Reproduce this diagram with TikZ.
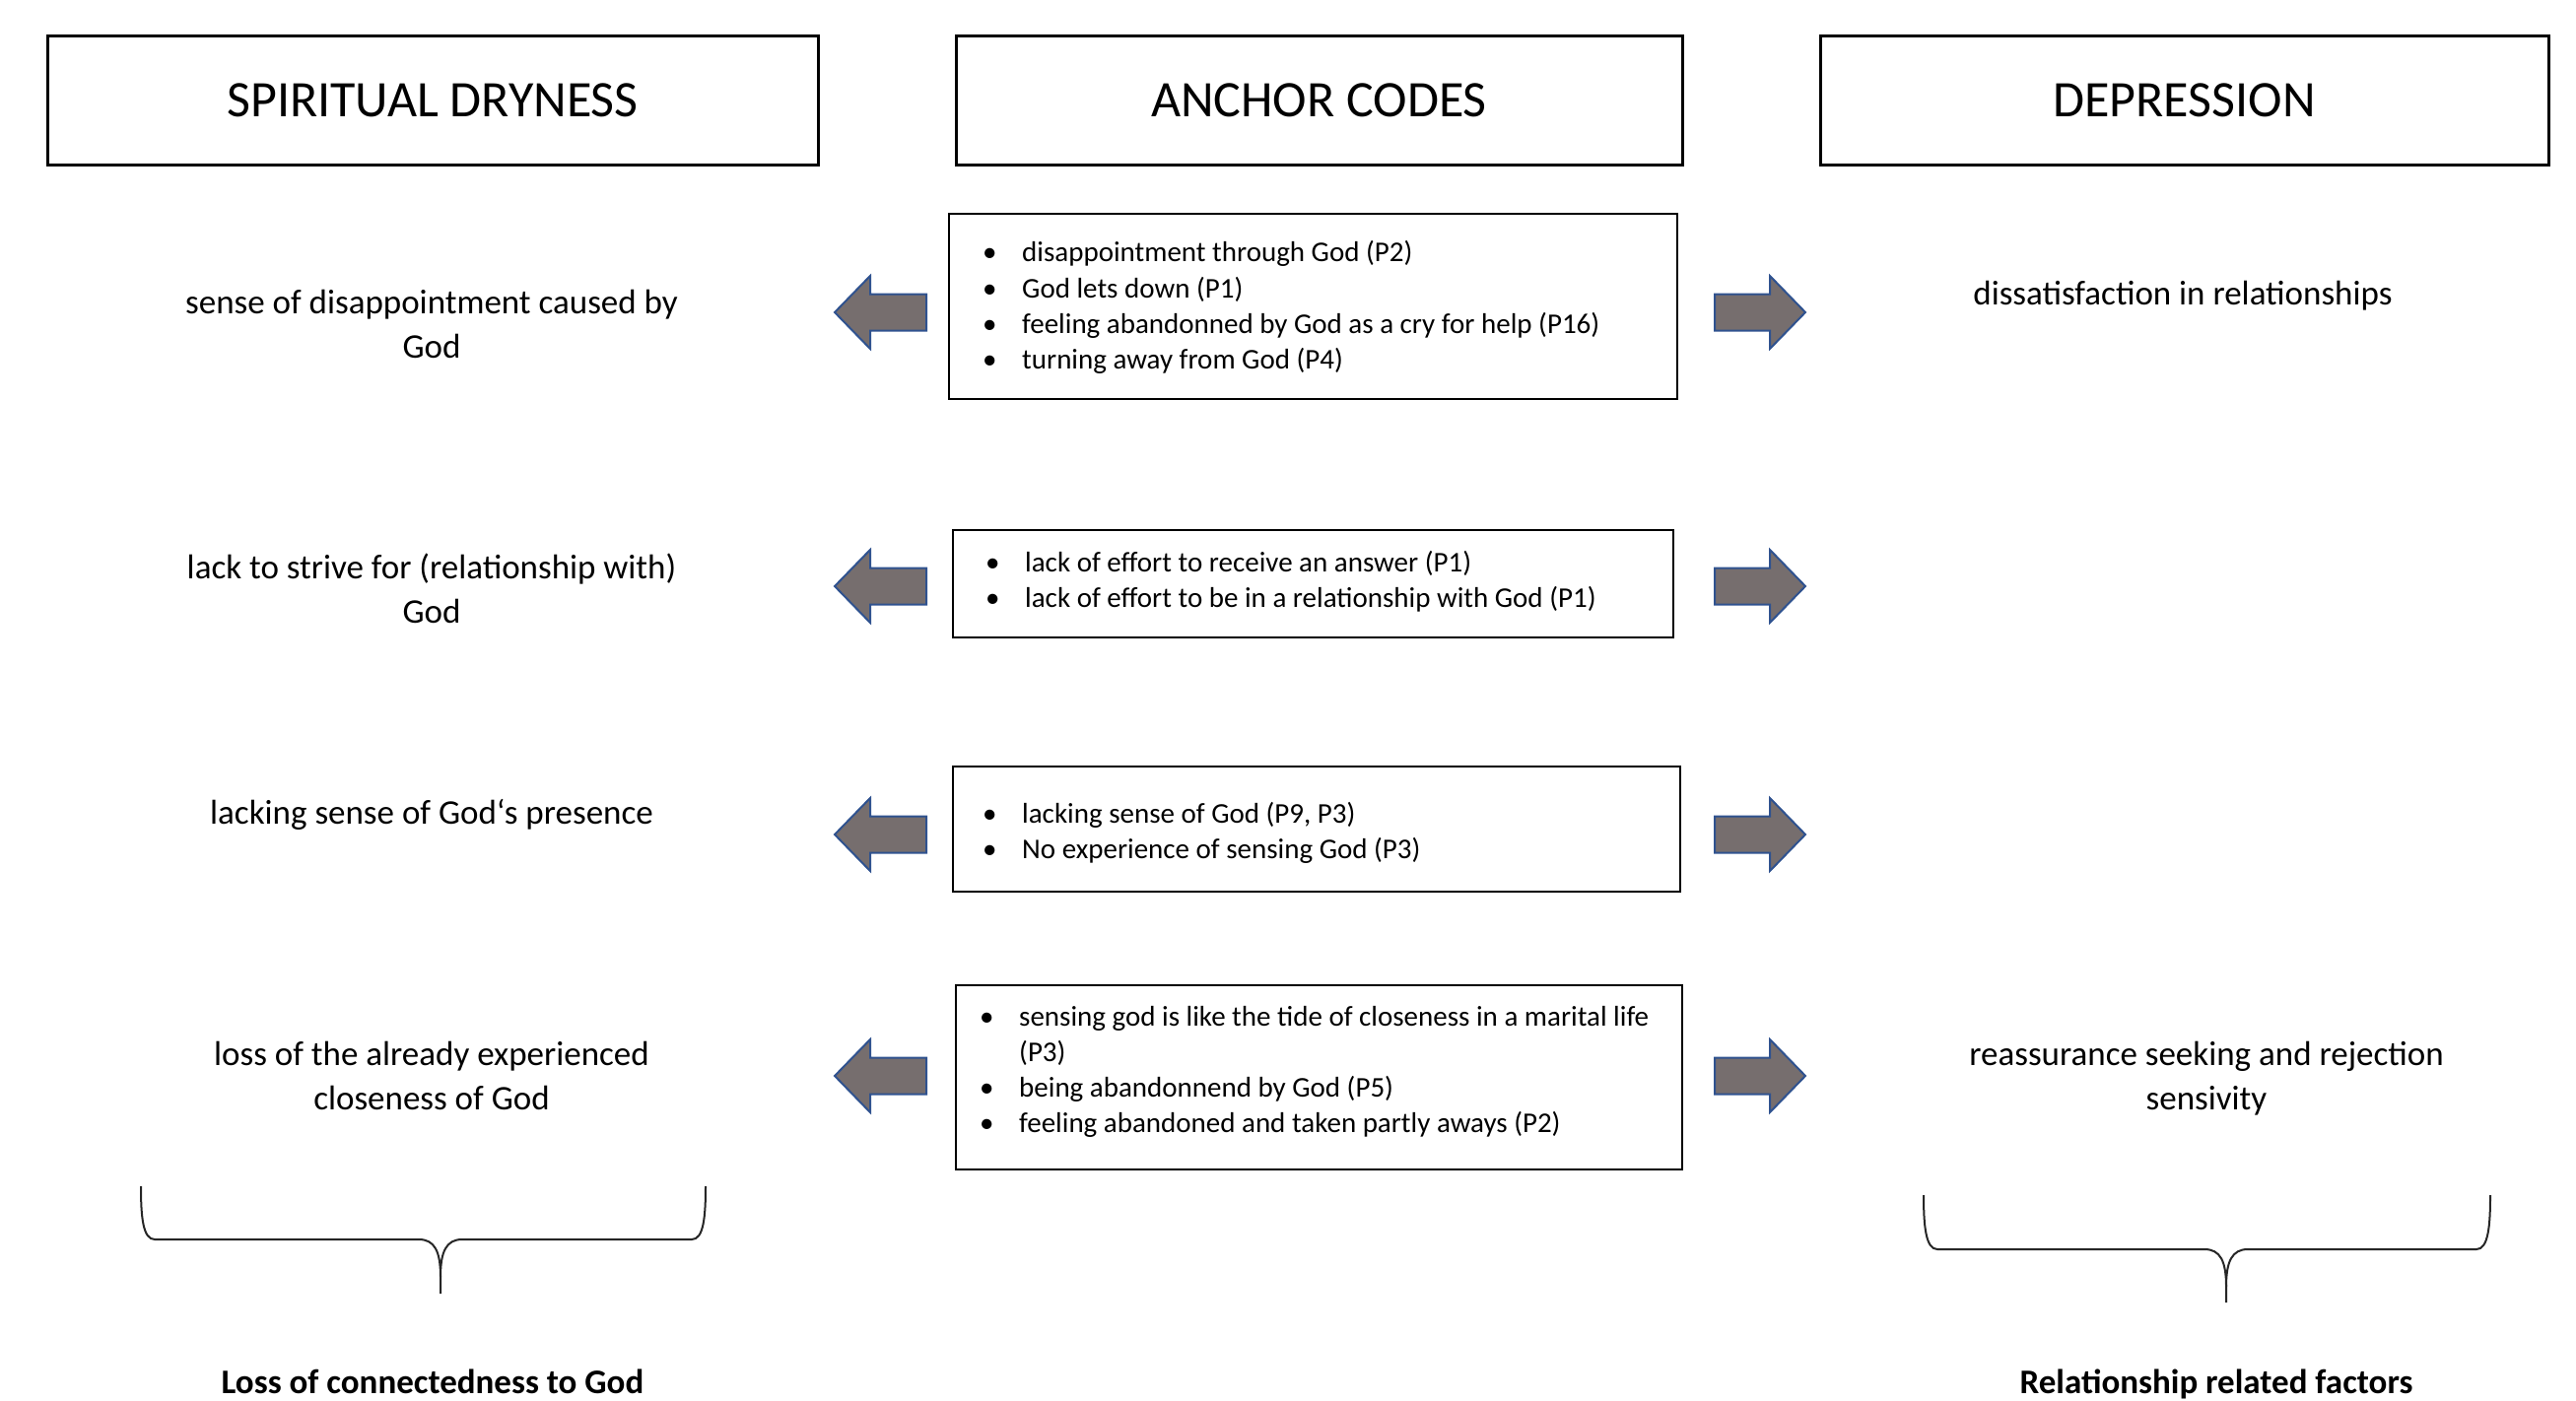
\documentclass[tikz,border=0pt]{standalone}
\usepackage{fontspec}
\setmainfont{Carlito}
\definecolor{arrowfill}{RGB}{118,110,110}
\definecolor{arrowline}{RGB}{47,82,143}
\newcommand\bul{\makebox[40pt][l]{•}}
\tikzset{
  hbox/.style={draw, line width=3pt, minimum width=782pt, minimum height=131pt, inner sep=0pt, font=\fontsize{52}{62}\selectfont},
  cbox/.style={draw, line width=2.5pt, inner sep=0pt},
  coltext/.style={align=center, inner sep=0pt, font=\fontsize{35}{45}\selectfont},
  itemlist/.style={align=left, anchor=west, inner sep=0pt, font=\fontsize{29}{36.2}\selectfont},
  blockarrow/.style={fill=arrowfill, draw=arrowline, line width=2pt, line join=miter},
  bracestyle/.style={line width=2pt, draw=black!85},
  foot/.style={font=\bfseries\fontsize{35}{40}\selectfont, anchor=base, inner sep=0pt},
  pics/larrow/.style={code={
    \path[blockarrow] (0,0) -- (36,-37) -- (36,-18.5) -- (93,-18.5) -- (93,18.5) -- (36,18.5) -- (36,37) -- cycle;}},
  pics/rarrow/.style={code={
    \path[blockarrow] (0,0) -- (-36,-37) -- (-36,-18.5) -- (-92,-18.5) -- (-92,18.5) -- (-36,18.5) -- (-36,37) -- cycle;}}
}
\begin{document}
\begin{tikzpicture}[x=1pt,y=-1pt]
\useasboundingbox (0,0) rectangle (2614,1421);
% headers
\node[hbox] (h1) at (439,102) {SPIRITUAL DRYNESS};
\node[hbox, minimum width=737pt] (h2) at (1338.5,102) {ANCHOR CODES};
\node[hbox, minimum width=739pt] (h3) at (2216.5,102) {DEPRESSION};
% left column
\node[coltext] (s1) at (438,329) {sense of disappointment caused by\\God};
\node[coltext] (s2) at (438,597) {lack to strive for (relationship with)\\God};
\node[coltext] (s3) at (438,827) {lacking sense of God‘s presence};
\node[coltext] (s4) at (438,1092) {loss of the already experienced\\closeness of God};
% right column
\node[coltext] (d1) at (2215,300) {dissatisfaction in relationships};
\node[coltext] (d4) at (2239,1095) {reassurance seeking and rejection\\sensivity};
% anchor code boxes
\node[cbox, minimum width=739pt, minimum height=188pt] (c1) at (1332.5,311) {};
\node[cbox, minimum width=731pt, minimum height=109pt] (c2) at (1332.5,592.5) {};
\node[cbox, minimum width=738pt, minimum height=127pt] (c3) at (1336,841.5) {};
\node[cbox, minimum width=737pt, minimum height=187pt] (c4) at (1338.5,1093.5) {};
\node[itemlist] (l1) at (997,312) {\bul disappointment through God (P2)\\\bul God lets down (P1)\\\bul feeling abandonned by God as a cry for help (P16)\\\bul turning away from God (P4)};
\node[itemlist] (l2) at (1000,590) {\bul lack of effort to receive an answer (P1)\\\bul lack of effort to be in a relationship with God (P1)};
\node[itemlist] (l3) at (997,845) {\bul lacking sense of God (P9, P3)\\\bul No experience of sensing God (P3)};
\node[itemlist] (l4) at (994,1088) {\bul sensing god is like the tide of closeness in a marital life\\\hspace*{40pt}(P3)\\\bul being abandonnend by God (P5)\\\bul feeling abandoned and taken partly aways (P2)};
% arrows
\foreach \yy in {317,595,847,1092}{
  \pic at (847,\yy) {larrow};
  \pic at (1832,\yy) {rarrow};
}
% left brace
\draw[bracestyle] (143,1204) .. controls (143,1235) and (145,1258) .. (157,1258) -- (425,1258) .. controls (441,1258) and (447,1270) .. (447,1296) -- (447,1313);
\draw[bracestyle] (716,1204) .. controls (716,1235) and (714,1258) .. (702,1258) -- (469,1258) .. controls (453,1258) and (447,1270) .. (447,1296);
% right brace
\draw[bracestyle] (1952,1213) .. controls (1952,1244) and (1954,1268) .. (1966,1268) -- (2237,1268) .. controls (2253,1268) and (2259,1280) .. (2259,1306) -- (2259,1322);
\draw[bracestyle] (2527,1213) .. controls (2527,1244) and (2525,1268) .. (2513,1268) -- (2281,1268) .. controls (2265,1268) and (2259,1280) .. (2259,1306);
% footers
\node[foot] (f1) at (439,1414) {Loss of connectedness to God};
\node[foot] (f2) at (2249,1414) {Relationship related factors};
\end{tikzpicture}
\end{document}
